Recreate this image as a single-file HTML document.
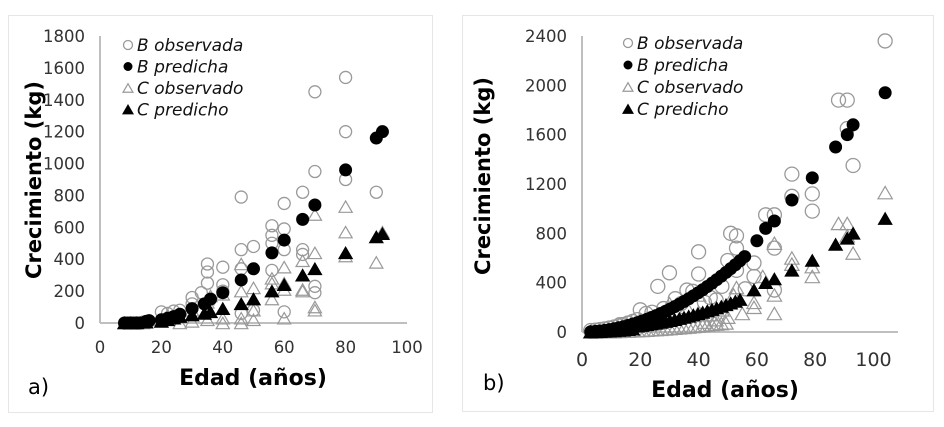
<!DOCTYPE html>
<html><head><meta charset="utf-8"><style>
html,body{margin:0;padding:0;background:#fff;}
svg{display:block;font-family:"DejaVu Sans","Liberation Sans",sans-serif;}
</style></head><body>
<svg id="s" width="944" height="427" xmlns="http://www.w3.org/2000/svg">
<rect x="0" y="0" width="944" height="427" fill="#fff"/>
<rect x="8.5" y="15.5" width="424" height="397" fill="#fff" stroke="#e6e6e6"/>
<rect x="462.5" y="15.5" width="471" height="396" fill="#fff" stroke="#e6e6e6"/>
<g id="a"></g><g id="b"></g>
</svg>
<script>
const NS="http://www.w3.org/2000/svg";
function el(p,t,a,txt){const e=document.createElementNS(NS,t);for(const k in a)e.setAttribute(k,a[k]);if(txt!==undefined)e.textContent=txt;p.appendChild(e);return e;}
function mk(g,type,x,y,r){
 if(type=="oc")el(g,"circle",{cx:x,cy:y,r:r,fill:"none",stroke:"#999","stroke-width":1.3});
 else if(type=="fc")el(g,"circle",{cx:x,cy:y,r:r,fill:"#000"});
 else {const h=r*1.9;el(g,"polygon",{points:`${x-r*1.1},${y+h/2} ${x+r*1.1},${y+h/2} ${x},${y-h/2}`,fill:type=="ft"?"#000":"none",stroke:type=="ft"?"#000":"#999","stroke-width":1.2});}
}
function panel(g,o){
 const X=v=>o.x0+(v-o.xmin)*o.xs, Y=v=>o.y0-v*o.ys;
 el(g,"line",{x1:o.x0,y1:o.y0,x2:o.xend,y2:o.y0,stroke:"#bfbfbf","stroke-width":2});
 el(g,"line",{x1:o.yax,y1:o.y0,x2:o.yax,y2:o.ytop,stroke:"#bfbfbf","stroke-width":2});
 o.yt.forEach(v=>el(g,"text",{x:o.ylx,y:Y(v)+6,"text-anchor":"end","font-size":o.fs,fill:"#333"},String(v)));
 o.xt.forEach(v=>el(g,"text",{x:X(v),y:o.xly,"text-anchor":"middle","font-size":o.xfs,fill:"#333"},String(v)));
 el(g,"text",{x:o.tx,y:o.ty,"text-anchor":"middle","font-size":22,"font-weight":"bold"},"Edad (años)");
 el(g,"text",{transform:`translate(${o.yx},${o.yy}) rotate(-90)`,"text-anchor":"middle","font-size":21,"font-weight":"bold"},"Crecimiento (kg)");
 el(g,"text",{x:o.lx,y:o.ly,"font-size":21},o.lab);
 o.series.forEach(s=>s.d.forEach(p=>mk(g,s.t,X(p[0]),Y(p[1]),s.r)));
 const L=o.leg;
 [["oc",L.n[0]],["fc",L.n[1]],["ot",L.n[2]],["ft",L.n[3]]].forEach((q,i)=>{
  mk(g,q[0],L.x,L.y+i*L.dy,4.5);
  el(g,"text",{x:L.x+9,y:L.y+i*L.dy+6,"font-size":17,"font-style":"italic",fill:"#111"},q[1]);
 });
}
const A={
 x0:100,xmin:0,xs:3.07,xend:407,yax:100,y0:323,ys:287/1800,ytop:36,fs:16.5,xfs:16.5,
 yt:[0,200,400,600,800,1000,1200,1400,1600,1800],xt:[0,20,40,60,80,100],ylx:85,xly:353,
 tx:253,ty:385,yx:41,yy:180,lx:28,ly:394,lab:"a)",
 leg:{x:128,y:45,dy:21.5,n:["B observada","B predicha","C observado","C predicho"]},
 series:[
 {t:"oc",r:6,d:[[8,0],[10,0],[12,0],[14,5],[16,10],[20,70],[22,60],[24,75],[26,80],[30,160],[30,120],[33,190],[35,370],[35,320],[35,250],[36,150],[40,350],[40,240],[40,200],[46,790],[46,460],[46,340],[46,60],[50,480],[50,80],[56,610],[56,550],[56,500],[56,330],[60,750],[60,590],[60,460],[60,70],[66,820],[66,460],[66,430],[70,1450],[70,950],[70,230],[70,190],[80,1540],[80,1200],[80,900],[90,820]]},
 {t:"ot",r:6,d:[[8,0],[10,0],[14,0],[20,20],[22,50],[26,0],[30,80],[30,10],[35,150],[35,130],[35,20],[36,170],[40,180],[40,0],[40,30],[46,370],[46,200],[46,30],[46,0],[50,220],[50,80],[50,20],[56,280],[56,250],[56,150],[60,350],[60,250],[60,210],[60,30],[66,390],[66,210],[66,200],[70,680],[70,440],[70,100],[70,80],[80,730],[80,570],[80,420],[90,380],[92,570]]},
 {t:"fc",r:6.5,d:[[8,0],[9,0],[10,0],[11,0],[12,0],[13,0],[15,10],[16,15],[20,20],[22,30],[24,40],[26,55],[30,90],[34,120],[36,150],[40,190],[46,270],[50,340],[56,440],[60,520],[66,650],[70,740],[80,960],[90,1160],[92,1200]]},
 {t:"ft",r:6,d:[[8,0],[10,0],[12,0],[15,5],[20,10],[22,20],[24,30],[26,40],[30,50],[34,60],[36,70],[40,90],[46,120],[50,150],[56,200],[60,240],[66,300],[70,340],[80,440],[90,540],[92,560]]}
 ]};
function dense(a,b,f){const r=[];for(let x=a;x<=b;x+=1.6)r.push([x,f(x)]);return r;}
const bp=dense(3,56,x=>0.25*Math.pow(x,1.94)),cp=dense(3,55,x=>0.06*Math.pow(x,2.08)+(x>18?20:0));
const bo=dense(3,20,x=>0.25*x*x+10).concat([[13,60],[20,180],[22,150],[26,370],[30,480],[32,270],[36,340],[40,650],[40,470],[44,280],[48,370],[50,580],[51,800],[53,780],[53,680],[53,500],[56,350],[59,560],[59,450],[63,950],[66,950],[66,680],[66,340],[72,1280],[72,1100],[79,1120],[79,980],[88,1880],[91,1880],[91,1650],[93,1350],[104,2360],[24,160],[28,190],[34,230],[38,330],[42,240],[46,260]]);
const co=dense(3,50,x=>0.03*x*x).concat([[20,100],[26,150],[30,230],[40,300],[40,160],[42,80],[46,100],[50,120],[52,300],[53,360],[55,150],[59,240],[59,200],[62,450],[66,720],[66,300],[66,150],[72,600],[72,550],[79,530],[79,450],[88,880],[91,880],[91,780],[93,640],[104,1130],[36,200],[44,140],[48,180]]);
const B={
 x0:582,xmin:0,xs:2.915,xend:898,yax:582,y0:332,ys:296/2400,ytop:36,fs:16.5,xfs:19,
 yt:[0,400,800,1200,1600,2000,2400],xt:[0,20,40,60,80,100],ylx:567,xly:366,
 tx:725,ty:397,yx:490,yy:176,lx:483,ly:390,lab:"b)",
 leg:{x:628,y:43,dy:22,n:["B  observada","B predicha","C observado","C predicho"]},
 series:[
 {t:"oc",r:7,d:bo},{t:"ot",r:6.5,d:co},
 {t:"fc",r:6.5,d:bp.concat([[60,740],[63,840],[66,900],[72,1070],[79,1250],[87,1500],[91,1600],[93,1680],[104,1940]])},
 {t:"ft",r:6,d:cp.concat([[59,340],[63,400],[66,430],[72,500],[79,580],[87,710],[91,760],[93,800],[104,920]])}
 ]};
panel(document.getElementById("a"),A);
panel(document.getElementById("b"),B);
</script>
</body></html>
